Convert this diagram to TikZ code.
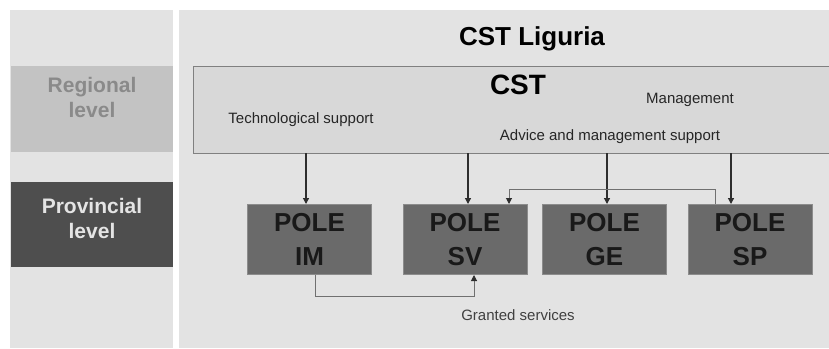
\documentclass[tikz,border=0pt]{standalone}
\usepackage{fontspec}
\setmainfont{Liberation Sans}
\usetikzlibrary{arrows.meta,positioning}
\definecolor{panelbg}{HTML}{E3E3E3}
\definecolor{cstfill}{HTML}{D8D8D8}
\definecolor{cstline}{HTML}{808080}
\definecolor{regfill}{HTML}{C3C3C3}
\definecolor{regtext}{HTML}{8A8A8A}
\definecolor{provfill}{HTML}{4E4E4E}
\definecolor{provtext}{HTML}{E4E4E4}
\definecolor{polefill}{HTML}{6A6A6A}
\definecolor{poleline}{HTML}{8C8C8C}
\definecolor{darkline}{HTML}{2E2E2E}
\definecolor{greyline}{HTML}{707070}
\tikzset{
  panel/.style={fill=panelbg, draw=none},
  levelbox/.style={minimum width=162, minimum height=86, inner sep=0, align=center,
     font=\fontsize{21}{25}\selectfont\bfseries},
  cstbox/.style={fill=cstfill, draw=cstline, line width=1.3pt, minimum width=640,
     minimum height=87, inner sep=0, anchor=north west},
  polebox/.style={fill=polefill, draw=poleline, line width=1pt, minimum width=124,
     minimum height=70, inner sep=0, align=center,
     font=\fontsize{26}{34}\selectfont\bfseries, text=black!90},
  small/.style={font=\fontsize{15}{18}\selectfont, text=black!85, inner sep=0},
  arr/.style={draw=darkline, line width=1.3pt, -{Triangle[length=6pt,width=6pt]}},
  garr/.style={draw=greyline, line width=1pt, -{Triangle[length=6pt,width=6pt,color=darkline]}},
}
\begin{document}
\begin{tikzpicture}[x=1pt,y=-1pt]
\useasboundingbox[fill=white] (0,0) rectangle (829,348);
% panels
\fill[panelbg] (10,10) rectangle (173,348);
\fill[panelbg] (179,10) rectangle (829,348);
% level boxes
\node[levelbox, fill=regfill, text=regtext, anchor=north west] (reg) at (11,66) {};
\node[text=regtext, font=\fontsize{21}{25}\selectfont\bfseries, align=center] (regtxt) at (92,97) {Regional\\level};
\node[levelbox, fill=provfill, text=provtext, anchor=north west, minimum height=85] (prov) at (11,182) {};
\node[text=provtext, font=\fontsize{21}{25}\selectfont\bfseries, align=center] (provtxt) at (92,218) {Provincial\\level};
% titles
\node[font=\fontsize{26}{30}\selectfont\bfseries] (title) at (532,39) {CST Liguria};
% CST box
\node[cstbox] (cst) at (193,66) {};
\node[font=\fontsize{28}{32}\selectfont\bfseries] (csttxt) at (518,85) {CST};
\node[small] (mgmt) at (690,100) {Management};
\node[small] (tech) at (301,120) {Technological support};
\node[small] (adv) at (610,137) {Advice and management support};
% poles
\node[polebox] (im) at (309.5,239.5) {POLE\\IM};
\node[polebox] (sv) at (465,239.5) {POLE\\SV};
\node[polebox] (ge) at (604.5,239.5) {POLE\\GE};
\node[polebox] (sp) at (750,239.5) {POLE\\SP};
% connectors from CST
\coordinate (aim) at (306,153);
\coordinate (asv) at (468,153);
\coordinate (age) at (607,153);
\coordinate (asp) at (731,153);
\draw[arr] (aim) -- (aim |- im.north);
\draw[arr] (asv) -- (asv |- sv.north);
\draw[arr] (age) -- (age |- ge.north);
\draw[arr] (asp) -- (asp |- sp.north);
% SP -> SV
\draw[garr] ([xshift=-35pt]sp.north) -- ++(0,-15) -| ([xshift=44pt]sv.north);
% IM -> SV
\draw[garr] ([xshift=5.5pt]im.south) -- ++(0,21) -| ([xshift=9pt]sv.south);
\node[small, text=black!75] (granted) at (518,315) {Granted services};
\end{tikzpicture}
\end{document}
